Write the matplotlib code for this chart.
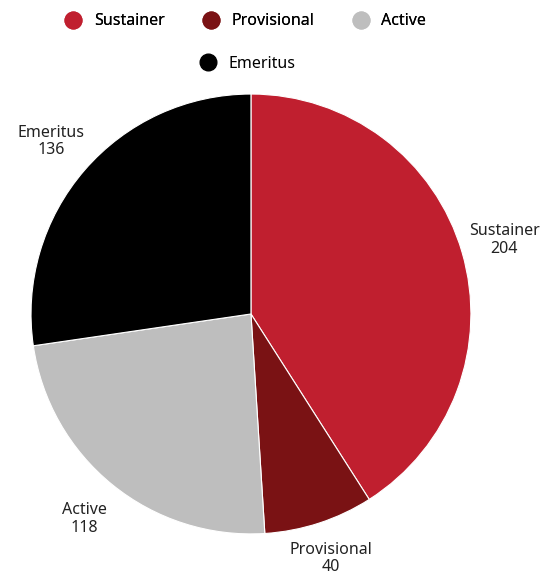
import matplotlib.pyplot as plt
from matplotlib.lines import Line2D

# member counts
categories = ["Sustainer", "Provisional", "Active", "Emeritus"]
counts = [204, 40, 118, 136]
colors = ["#C01F2F", "#7A1214", "#BEBEBE", "#000000"]

plt.rcParams['font.family'] = ['Noto Sans', 'DejaVu Sans']

fig = plt.figure(figsize=(5.54, 5.76), dpi=100)
ax = fig.add_axes([0.056, 0.0729, 0.794, 0.764])

labels = [c + "\n" + str(v) for c, v in zip(categories, counts)]
wedges, texts = ax.pie(counts, labels=labels, colors=colors, startangle=90, counterclock=False,
                       labeldistance=1.2, radius=1,
                       wedgeprops={'linewidth': 0.8, 'edgecolor': 'white'},
                       textprops={'ha': 'center', 'va': 'center', 'fontsize': 11.5,
                                  'color': '#222222', 'linespacing': 1.1})
# pull the bottom label in a bit so it stays inside the figure
x, y = texts[1].get_position()
texts[1].set_position((x * 0.975, y * 0.975))

ax.set_xlim(-1, 1)
ax.set_ylim(-1, 1)
ax.set_aspect('equal')

handles = [Line2D([], [], marker='o', linestyle='none', markersize=12,
                  markerfacecolor=c, markeredgecolor=c) for c in colors]
# legend in rows: three on top, the last one centred below
leg1 = fig.legend(handles[:3], categories[:3], loc='center', bbox_to_anchor=(0.436, 0.963),
                  ncol=3, frameon=False, fontsize=11.5, handletextpad=0.3,
                  columnspacing=1.9)
fig.add_artist(leg1)
fig.legend(handles[3:], categories[3:], loc='center', bbox_to_anchor=(0.44, 0.889),
           ncol=1, frameon=False, fontsize=11.5, handletextpad=0.3)

fig.savefig("out.png", dpi=100)
